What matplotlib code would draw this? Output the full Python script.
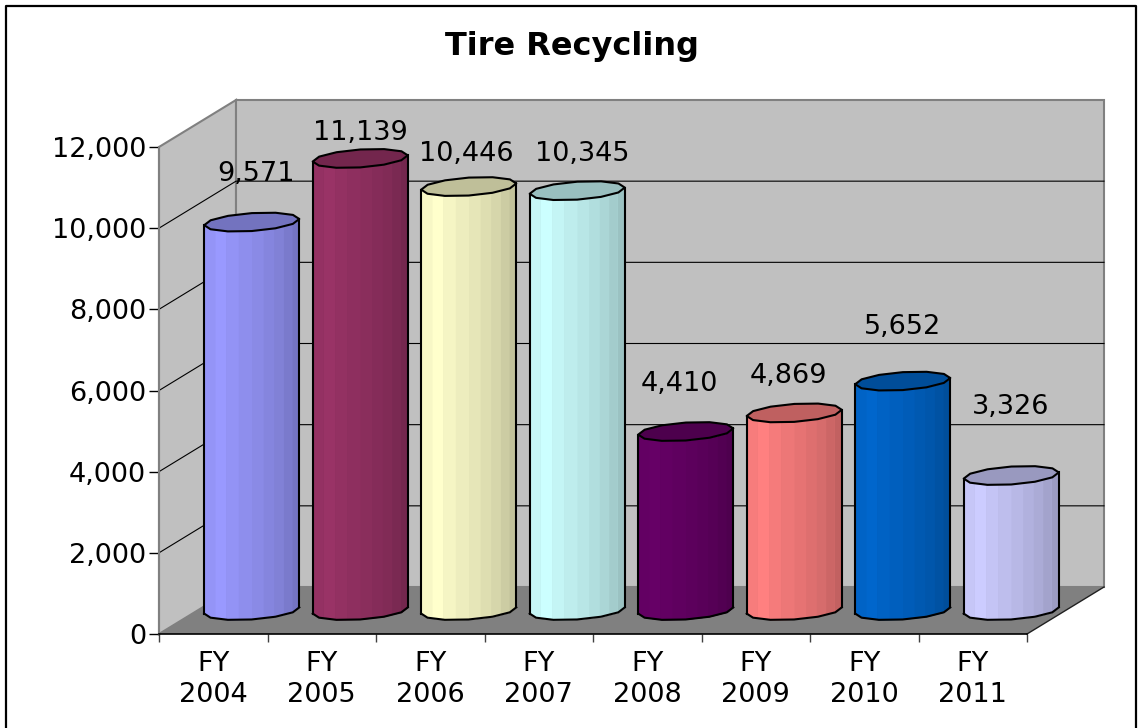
#!/usr/bin/env python

import matplotlib.pyplot as plt
import numpy as np
from matplotlib.lines import Line2D

categories = ['FY\n2004', 'FY\n2005', 'FY\n2006', 'FY\n2007',
              'FY\n2008', 'FY\n2009', 'FY\n2010', 'FY\n2011']
values = [9571, 11139, 10446, 10345, 4410, 4869, 5652, 3326]
value_labels = ['9,571', '11,139', '10,446', '10,345', '4,410', '4,869', '5,652', '3,326']
colors = ['#9999FF', '#993366', '#FFFFCC', '#CCFFFF', '#660066', '#FF8080', '#0066CC', '#CCCCFF']
y_ticks = [0, 2000, 4000, 6000, 8000, 10000, 12000]

# labels were moved by hand in the original, offset from bar top in pixels
label_offsets = [(4, 48), (0, 25), (-2, 33), (5, 37), (-6, 48), (-6, 37), (0, 54), (-1, 69)]

W, H = 1138, 728
LEFT, RIGHT, TOP, BOTTOM = 159, 1027, 147, 634
px_x = (RIGHT - LEFT) / 8.0
px_y = (BOTTOM - TOP) / 12000.0
DX = 77 / px_x
DY = 47 / px_y
FONT = 'DejaVu Sans'
FS = 19.5

# where the shading steps sit across a bar (0 left, 1 right)
band_edges = [0, 0.11, 0.23, 0.36, 0.5, 0.62, 0.73, 0.83, 0.92, 1]
band_shades = [0.97, 1.0, 0.96, 0.93, 0.90, 0.87, 0.84, 0.80, 0.76]


def shade(color, f):
    rgb = np.array(plt.matplotlib.colors.to_rgb(color))
    return tuple(rgb * f)


fig = plt.figure(figsize=(W / 100, H / 100), dpi=100, facecolor='white')
ax = fig.add_axes([LEFT / W, 1 - BOTTOM / H, (RIGHT - LEFT) / W, (BOTTOM - TOP) / H])
ax.set_xlim(0, 8)
ax.set_ylim(0, 12000)
ax.patch.set_visible(False)
for s in ['top', 'right']:
    ax.spines[s].set_visible(False)
ax.spines['left'].set_color('#808080')
ax.spines['left'].set_linewidth(1.5)
ax.spines['bottom'].set_color('black')
ax.spines['bottom'].set_linewidth(1.2)
ax.spines['left'].set_zorder(6)
ax.spines['bottom'].set_zorder(6)

# walls and floor
ax.fill([0, DX, DX, 0], [0, DY, 12000 + DY, 12000], fc='#C0C0C0', ec='#808080', lw=1.5, clip_on=False, zorder=1)
ax.fill([DX, 8 + DX, 8 + DX, DX], [DY, DY, 12000 + DY, 12000 + DY], fc='#C0C0C0', ec='#808080', lw=1.5, clip_on=False, zorder=1)
ax.fill([0, 8, 8 + DX, DX], [0, 0, DY, DY], fc='#808080', ec='none', clip_on=False, zorder=2)
ax.plot([8, 8 + DX], [0, DY], color='#202020', lw=1, clip_on=False, zorder=2)

for v in y_ticks[1:-1]:
    ax.plot([0, DX, 8 + DX], [v, v + DY, v + DY], color='black', lw=0.8, clip_on=False, zorder=2)

# cylinder cross section: coarse circle in the oblique floor plane, in pixels
t = np.radians(19 + 30 * np.arange(13))
ring_x = (44.9 * np.cos(t) + 15.6 * np.sin(t)) / px_x
ring_y = 9.5 * np.sin(t) / px_y
front = np.argsort(ring_x[6:13])
front_x = ring_x[6:13][front]
front_y = ring_y[6:13][front]

band_x = front_x[0] + np.array(band_edges) * (front_x[-1] - front_x[0])

for i, (v, c) in enumerate(zip(values, colors)):
    cx = i + 0.5 + DX / 2
    cy = DY / 2
    ax.fill_between(cx + front_x, cy + front_y, cy + front_y + v, color=shade(c, 0.9), lw=0,
                    clip_on=False, zorder=3)
    for j in range(len(band_shades)):
        xs = np.linspace(band_x[j], band_x[j + 1], 6)
        low = np.interp(xs, front_x, front_y)
        ax.fill_between(cx + xs, cy + low, cy + low + v, color=shade(c, band_shades[j]), lw=0,
                        antialiased=False, clip_on=False, zorder=3)
    ax.fill(cx + ring_x, cy + v + ring_y, fc=shade(c, 0.75), ec='black', lw=1.5,
            clip_on=False, zorder=4, joinstyle='round')
    ax.plot(cx + front_x, cy + front_y, color='black', lw=1.5, clip_on=False, zorder=4)
    ax.plot([cx + front_x[0]] * 2, [cy + front_y[0], cy + front_y[0] + v], color='black', lw=1.5,
            clip_on=False, zorder=4)
    ax.plot([cx + front_x[-1]] * 2, [cy + front_y[-1], cy + front_y[-1] + v], color='black', lw=1.5,
            clip_on=False, zorder=4)
    ax.annotate(value_labels[i], xy=(cx, cy + v), xytext=label_offsets[i], textcoords='offset pixels',
                ha='center', va='center', fontsize=FS, family=FONT, color='black',
                annotation_clip=False, zorder=7)

# axes ticks
ax.set_yticks(y_ticks)
ax.set_yticklabels(['{:,}'.format(v) for v in y_ticks], fontsize=FS, family=FONT)
ax.set_xticks(np.arange(9))
ax.set_xticklabels([])
ax.set_xticks(np.arange(8) + 0.5, minor=True)
ax.set_xticklabels(categories, minor=True, fontsize=FS, family=FONT, linespacing=1.22)
ax.tick_params(axis='y', length=7.2, width=1, color='black', pad=2)
ax.tick_params(axis='x', which='major', length=6, width=1, color='#404040')
ax.tick_params(axis='x', which='minor', length=0, pad=12.5)

fig.text(572 / W, 1 - 46 / H, 'Tire Recycling', ha='center', va='center', fontsize=23,
         fontweight='bold', family=FONT)

# chart border, open at the bottom
border_x = [6 / W, 6 / W, 1136 / W, 1136 / W]
border_y = [0, 1 - 6 / H, 1 - 6 / H, 0]
fig.add_artist(Line2D(border_x, border_y, color='black', lw=1.6, transform=fig.transFigure))

fig.savefig('out.png', dpi=100)
